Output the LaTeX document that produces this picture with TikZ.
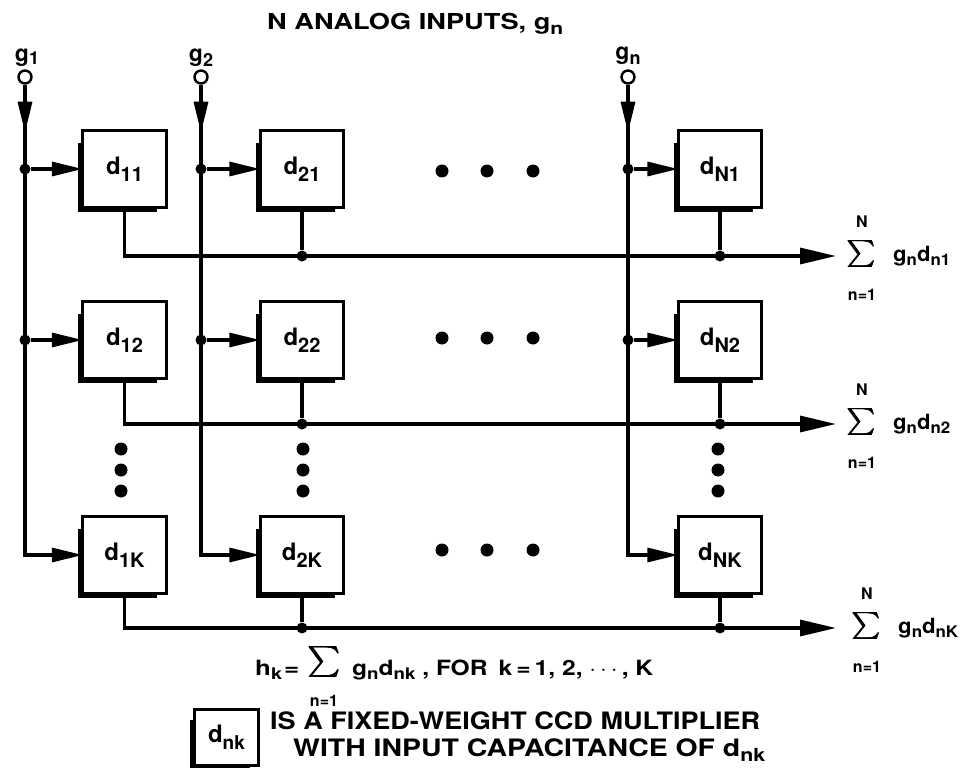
\documentclass[tikz,border=0pt]{standalone}
\usepackage{fontspec}
\usepackage{graphicx}
\usepackage{amsmath}
\setmainfont{TeX Gyre Heros}
\usetikzlibrary{arrows.meta}
\newcommand{\fs}[1]{\fontsize{#1}{#1}\selectfont}
\newcommand{\ds}[5]{{\fs{#3}#1}\raisebox{-#5pt}{\fs{#4}#2}}
\newcommand{\bigsum}[1]{\scalebox{#1}{$\pmb{\sum}$}}
\newcommand{\fitw}[2]{\resizebox{#1}{\height}{#2}}
\begin{document}
\begin{tikzpicture}[x=1pt,y=-1pt,font=\bfseries,
  wire/.style={line width=3.2pt},
  arr/.style={wire,-{Triangle[length=31pt,width=14pt]}},
  busarr/.style={wire,-{Triangle[length=36pt,width=16pt]}},
  mult/.style={minimum width=83pt,minimum height=76pt,inner sep=0pt},
  boxline/.style={line width=3.2pt},
  shad/.style={line width=3.6pt},
  jdot/.style={circle,fill,inner sep=0pt,minimum size=11pt},
  edot/.style={circle,fill,inner sep=0pt,minimum size=13pt},
  incirc/.style={circle,draw,line width=2.4pt,minimum size=13pt,inner sep=0pt,fill=white}]
\useasboundingbox (0,0) rectangle (962,768);

% title
\node[anchor=base west,inner sep=0pt] (title) at (267,30) {\fitw{296pt}{\fs{22}N ANALOG INPUTS, \ds{g}{n}{22}{17}{5}}};

% multiplier boxes
\foreach \r/\y in {1/169,2/340,K/555}{
  \node[mult] (b1\r) at (124.5,\y) {\ds{d}{1\r}{24}{20}{7}};
  \node[mult] (b2\r) at (302,\y) {\ds{d}{2\r}{24}{20}{7}};
  \node[mult] (bN\r) at (720,\y) {\ds{d}{N\r}{24}{20}{7}};
  \foreach \c in {1,2,N}{
    \draw[boxline] (b\c\r.north west) rectangle (b\c\r.south east);
    \draw[shad] ([xshift=-2.6pt,yshift=-12pt]b\c\r.north west) -- ([xshift=-2.6pt,yshift=-2.6pt]b\c\r.south west) -- ([xshift=-9pt,yshift=-2.6pt]b\c\r.south east);
  }
}

% inputs
\foreach \c/\x in {1/25,2/201,N/628}{
  \node[incirc] (in\c) at (\x,77) {};
  \draw[arr] (in\c.south) |- (b\c K.west);
  \draw[arr] (in\c.south) -- ++(0,48);
  \node[jdot] (j\c1) at (in\c |- b\c1) {};
  \node[jdot] (j\c2) at (in\c |- b\c2) {};
  \draw[arr] (j\c1) -- (b\c1.west);
  \draw[arr] (j\c2) -- (b\c2.west);
}
\node[anchor=base,inner sep=0pt] (lg1) at (27,62) {\ds{g}{1}{23}{18}{3}};
\node[anchor=base,inner sep=0pt] (lg2) at (201,62) {\ds{g}{2}{23}{18}{5}};
\node[anchor=base,inner sep=0pt] (lgn) at (628,60) {\ds{g}{n}{23}{18}{5}};

% output buses
\foreach \r/\Y/\dx in {1/256/0,2/424/0,K/628/5}{
  \coordinate (o\r) at (836,\Y);
  \draw[busarr] (b1\r.south) |- (o\r);
  \node[jdot] (k2\r) at (b2\r.south |- o\r) {};
  \node[jdot] (kN\r) at (bN\r.south |- o\r) {};
  \draw[wire] (b2\r.south) -- (k2\r);
  \draw[wire] (bN\r.south) -- (kN\r);
  \node[inner sep=0pt] (S\r) at (862+\dx,\Y-2) {\bigsum{2.7}};
  \node[inner sep=0pt] (SN\r) at (862+\dx,\Y-34) {\fs{16}N};
  \node[inner sep=0pt] (Sn\r) at (862+\dx,\Y+39) {\fs{16}n=1};
}
\node[anchor=base west,inner sep=0pt] (G1) at (893,261) {\fitw{57pt}{\ds{g}{n}{21}{16}{4}\ds{d}{n1}{21}{16}{4}}};
\node[anchor=base west,inner sep=0pt] (G2) at (893,429) {\fitw{57pt}{\ds{g}{n}{21}{16}{4}\ds{d}{n2}{21}{16}{4}}};
\node[anchor=base west,inner sep=0pt] (GK) at (898,633) {\fitw{60pt}{\ds{g}{n}{21}{16}{4}\ds{d}{nK}{21}{16}{4}}};

% ellipsis dots
\foreach \y in {171,338,550}{
  \foreach \x in {442,487,533}{ \node[edot] at (\x,\y) {}; }
}
\foreach \x in {121,303,718}{
  \foreach \y in {449,470,491}{ \node[edot] at (\x,\y) {}; }
}

% formula
\node[anchor=base west,inner sep=0pt] (hk) at (255,675) {\fitw{44pt}{\ds{h}{k}{21}{16}{4}\,{\fs{21}=}}};
\node[inner sep=0pt] (hS) at (325,662) {\bigsum{3.1}};
\node[inner sep=0pt] (hn) at (324,701) {\fs{16}n=1};
\node[anchor=base west,inner sep=0pt] (hr) at (352,675) {\fitw{301pt}{\ds{g}{n}{21}{16}{4}\ds{d}{nk}{21}{16}{4}{\fs{21} ,\ FOR\, k\,=\,1,\ 2,\ $\cdots$,\ K}}};

% legend
\node[mult,minimum width=63pt,minimum height=55pt] (leg) at (226.5,737.5) {\ds{d}{nk}{24}{19}{7}};
\draw[boxline] (leg.north west) rectangle (leg.south east);
\draw[shad] ([xshift=-2.6pt,yshift=-10pt]leg.north west) -- ([xshift=-2.6pt,yshift=-2.6pt]leg.south west) -- ([xshift=-8pt,yshift=-2.6pt]leg.south east);
\node[anchor=base west,inner sep=0pt] (l1) at (270,729) {\fitw{490pt}{\fs{24}IS A FIXED-WEIGHT CCD MULTIPLIER}};
\node[anchor=base west,inner sep=0pt] (l2) at (293,756) {\fitw{472pt}{\fs{24}WITH INPUT CAPACITANCE OF \ds{d}{nk}{24}{18}{5}}};
\end{tikzpicture}
\end{document}
